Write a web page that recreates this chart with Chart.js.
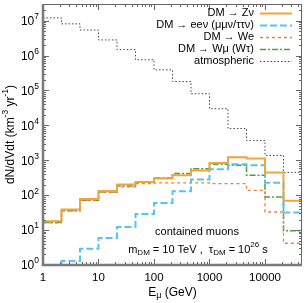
<!DOCTYPE html>
<html lang="en">
<head>
<meta charset="UTF-8">
<title>Contained muons / DM decay</title>
<script src="https://cdn.jsdelivr.net/npm/chart.js"></script>
<style>
    html, body { margin: 0; padding: 0; background: #fff; }
    #wrap { width: 308px; height: 303px; }
</style>
</head>
<body>
<div id="wrap"><canvas id="muonChart" width="308" height="303"></canvas></div>
<script>
// bin edges in E_mu (GeV), three bins per decade
const binEdges = [1, 2.154, 4.642, 10, 21.54, 46.42, 100, 215.4, 464.2, 1000, 2154, 4642, 10000, 21544, 46416];

// events per bin, km^-3 yr^-1
const zNu     = [18, 39, 78, 132, 204, 240, 302, 372, 513, 832, 1230, 1120, 447, 69];
const eeNu    = [0.5, 1.3, 2.9, 5.9, 12.3, 29, 60, 129, 282, 550, 776, 724, 229, 32];
const wE      = [16.2, 35.5, 71, 120, 174, 214, 224, 224, 224, 214, 214, 138, 33, 4.2];
const wMu     = [16.6, 36, 72, 123, 182, 240, 309, 417, 575, 776, 724, 372, 89, 9.5];
const atmos   = [1.2e7, 8.1e6, 5.4e6, 2.8e6, 1.48e6, 7.6e5, 3.9e5, 1.8e5, 8.1e4, 3.0e4, 8.1e3, 3.7e3, 1.38e3, 450];

const seriesLabels = ['DM \u2192 Z\u03bd', 'DM \u2192 ee\u03bd (\u03bc\u03bc\u03bd/\u03c4\u03c4\u03bd)', 'DM \u2192 We', 'DM \u2192 W\u03bc (W\u03c4)', 'atmospheric'];
const xTickLabels = [1, 10, 100, 1000, 10000];
const yDecades = [0, 1, 2, 3, 4, 5, 6, 7];

const FONT = '"Liberation Sans", Arial, Helvetica, sans-serif';

// histogram -> points at bin edges (last value repeated at the right edge)
function toSteps(vals) {
    return binEdges.map((e, i) => ({ x: e, y: vals[Math.min(i, vals.length - 1)] }));
}

function drawRich(ctx, parts, x, y, align) {
    let w = 0;
    parts.forEach(p => {
        ctx.font = p.size + 'px ' + FONT;
        p.w = ctx.measureText(p.t).width;
        w += p.w;
    });
    let cx = align === 'right' ? x - w : (align === 'center' ? x - w / 2 : x);
    ctx.textAlign = 'left';
    ctx.textBaseline = 'middle';
    parts.forEach(p => {
        ctx.font = p.size + 'px ' + FONT;
        ctx.fillText(p.t, cx, y + (p.dy || 0));
        cx += p.w;
    });
}

// frame, inward ticks, y labels, titles, legend, annotation
const decorPlugin = {
    id: 'decor',
    afterDraw(chart) {
        const ctx = chart.ctx;
        const a = chart.chartArea;
        const xs = chart.scales.x, ys = chart.scales.y;
        ctx.save();

        // minor / major ticks
        ctx.strokeStyle = '#666';
        ctx.lineWidth = 1;
        ctx.beginPath();
        for (let d = 0; d <= 4; d++) {
            for (let m = 1; m <= 9; m++) {
                const v = m * Math.pow(10, d);
                if (v > xs.max) continue;
                const px = Math.round(xs.getPixelForValue(v)) + 0.5;
                const len = m === 1 ? 6 : 3;
                ctx.moveTo(px, a.bottom); ctx.lineTo(px, a.bottom - len);
                ctx.moveTo(px, a.top); ctx.lineTo(px, a.top + len);
            }
        }
        for (let d = 0; d <= 7; d++) {
            for (let m = 1; m <= 9; m++) {
                const v = m * Math.pow(10, d);
                if (v > ys.max) continue;
                const py = Math.round(ys.getPixelForValue(v)) + 0.5;
                const len = m === 1 ? 6 : 3;
                ctx.moveTo(a.left, py); ctx.lineTo(a.left + len, py);
                ctx.moveTo(a.right, py); ctx.lineTo(a.right - len, py);
            }
        }
        ctx.stroke();

        // frame: thin top/right, thick gray left/bottom
        ctx.strokeStyle = '#666';
        ctx.lineWidth = 1;
        ctx.beginPath();
        ctx.moveTo(a.left, a.top + 0.5); ctx.lineTo(a.right - 0.5, a.top + 0.5); ctx.lineTo(a.right - 0.5, a.bottom);
        ctx.stroke();
        ctx.strokeStyle = '#7a7a7a';
        ctx.lineWidth = 2.5;
        ctx.beginPath();
        ctx.moveTo(a.left, a.top); ctx.lineTo(a.left, a.bottom); ctx.lineTo(a.right, a.bottom);
        ctx.stroke();

        // y tick labels 10^n
        ctx.fillStyle = '#000';
        yDecades.forEach(n => {
            const py = ys.getPixelForValue(Math.pow(10, n));
            drawRich(ctx, [{ t: '10', size: 12 }, { t: String(n), size: 8.5, dy: -5 }], a.left - 4, py + 1, 'right');
        });

        // axis titles
        drawRich(ctx, [{ t: 'E', size: 12 }, { t: '\u03bc', size: 9, dy: 3 }, { t: ' (GeV)', size: 12 }], (a.left + a.right) / 2, 293, 'center');
        ctx.save();
        ctx.translate(11, (a.top + a.bottom) / 2);
        ctx.rotate(-Math.PI / 2);
        drawRich(ctx, [{ t: 'dN/dVdt (km', size: 12 }, { t: '-3', size: 8.5, dy: -5 }, { t: ' yr', size: 12 }, { t: '-1', size: 8.5, dy: -5 }, { t: ')', size: 12 }], 0, 0, 'center');
        ctx.restore();

        // annotation
        drawRich(ctx, [{ t: 'contained muons', size: 11 }], 197, 232, 'center');
        drawRich(ctx, [{ t: 'm', size: 11 }, { t: 'DM', size: 8, dy: 3 }, { t: ' = 10 TeV ,  \u03c4', size: 11 }, { t: 'DM', size: 8, dy: 3 },
                       { t: ' = 10', size: 11 }, { t: '26', size: 8, dy: -5 }, { t: ' s', size: 11 }], 198, 250, 'center');

        // legend (text right, sample on the right)
        chart.data.datasets.forEach((ds, i) => {
            const ly = 13 + i * 12;
            ctx.fillStyle = '#000';
            drawRich(ctx, [{ t: ds.label, size: 11 }], 254, ly, 'right');
            ctx.strokeStyle = ds.borderColor;
            ctx.lineWidth = ds.borderWidth;
            ctx.setLineDash(ds.borderDash || []);
            ctx.beginPath();
            ctx.moveTo(260, ly + 0.5); ctx.lineTo(292, ly + 0.5);
            ctx.stroke();
            ctx.setLineDash([]);
        });

        ctx.restore();
    }
};

const ctx = document.getElementById('muonChart').getContext('2d');
new Chart(ctx, {
    type: 'line',
    data: {
        datasets: [
            { label: seriesLabels[0], data: toSteps(zNu),  borderColor: '#f2a33a', borderWidth: 2,   borderDash: [] },
            { label: seriesLabels[1], data: toSteps(eeNu), borderColor: '#56c4ee', borderWidth: 2,   borderDash: [7, 3] },
            { label: seriesLabels[2], data: toSteps(wE),   borderColor: '#e8823c', borderWidth: 1.3, borderDash: [3, 3] },
            { label: seriesLabels[3], data: toSteps(wMu),  borderColor: '#4f9e3f', borderWidth: 1.5, borderDash: [6, 2, 2, 2] },
            { label: seriesLabels[4], data: toSteps(atmos), borderColor: '#444444', borderWidth: 1,  borderDash: [1.5, 2] }
        ].map(ds => Object.assign(ds, { stepped: true, pointRadius: 0, fill: false, tension: 0 }))
    },
    options: {
        responsive: false,
        devicePixelRatio: 1,
        animation: false,
        layout: { padding: { top: 4, right: 2, left: 0, bottom: 0 } },
        plugins: { legend: { display: false }, tooltip: { enabled: false } },
        scales: {
            x: {
                type: 'logarithmic',
                min: 1,
                max: 46416,
                grid: { display: false, drawTicks: false },
                border: { display: false },
                ticks: {
                    autoSkip: false,
                    maxRotation: 0,
                    padding: 6,
                    color: '#000',
                    font: { family: FONT, size: 11.5 },
                    callback: function (v) {
                        const lg = Math.log10(v);
                        const r = Math.round(lg);
                        return (Math.abs(lg - r) < 1e-6 && xTickLabels.includes(Math.pow(10, r))) ? String(Math.pow(10, r)) : '';
                    }
                },
                afterFit: s => { s.height = 38; }
            },
            y: {
                type: 'logarithmic',
                min: 1,
                max: 3e7,
                grid: { display: false, drawTicks: false },
                border: { display: false },
                ticks: { display: false },
                afterFit: s => { s.width = 43; }
            }
        }
    },
    plugins: [decorPlugin]
});
</script>
</body>
</html>
